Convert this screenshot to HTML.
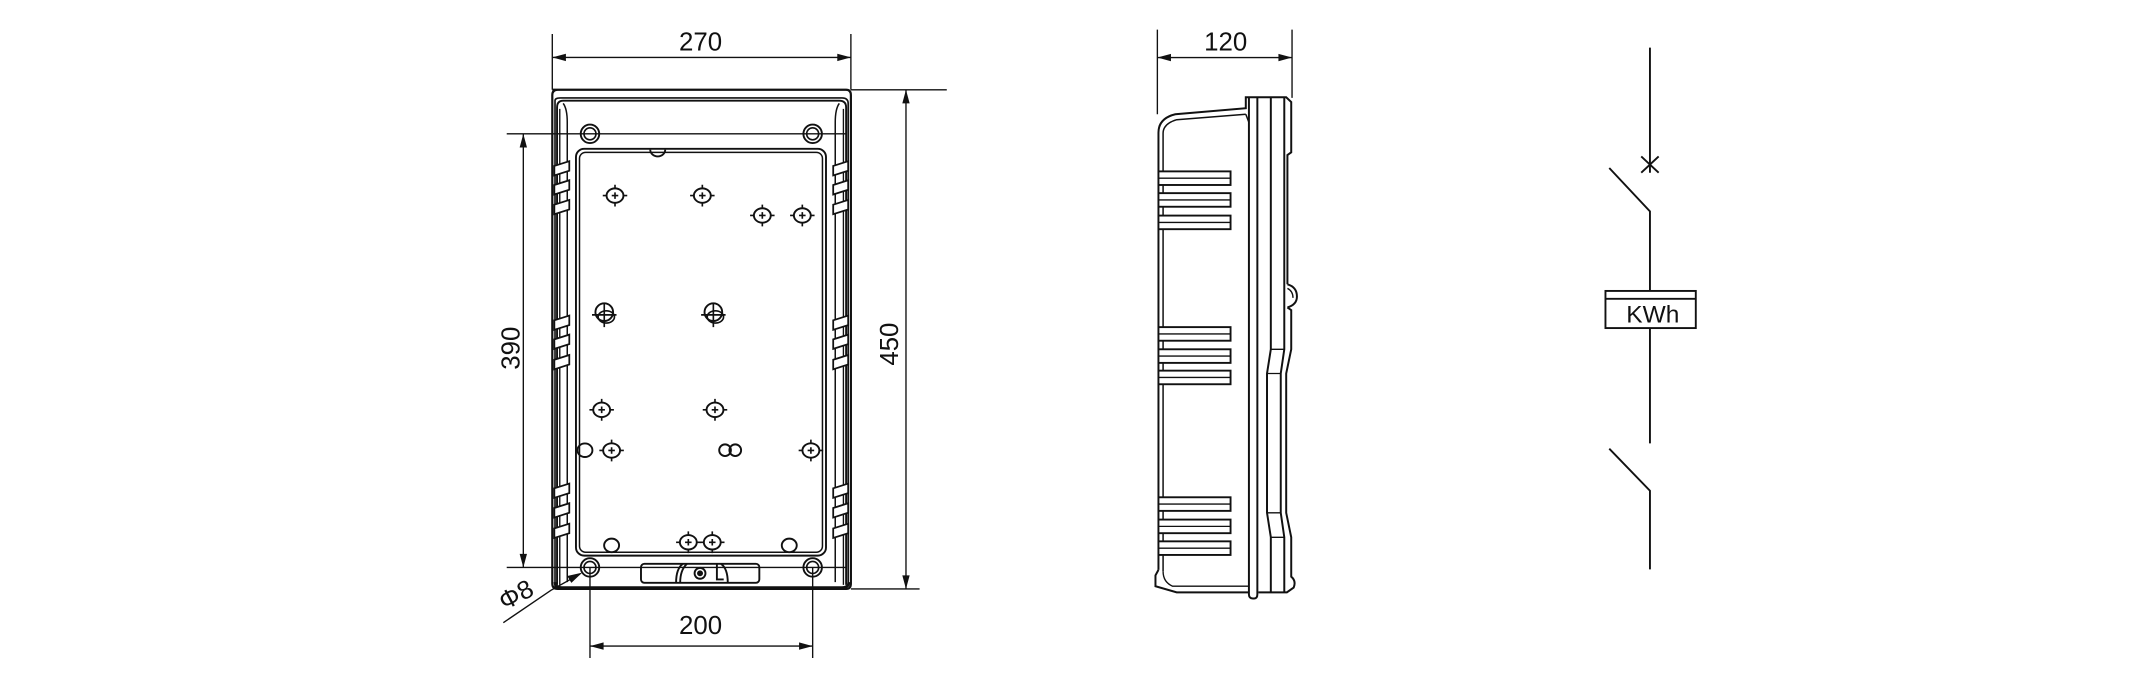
<!DOCTYPE html>
<html><head><meta charset="utf-8"><style>
html,body{margin:0;padding:0;background:#fff;width:2133px;height:693px;overflow:hidden}
svg{display:block}
text{font-family:"Liberation Sans",sans-serif;fill:#111}
</style></head><body>
<svg width="2133" height="693" viewBox="0 0 1568 509.5" preserveAspectRatio="none" xmlns="http://www.w3.org/2000/svg">
<defs>
<g id="scr"><ellipse cx="0" cy="0" rx="6.2" ry="5.3" fill="none" stroke="#111" stroke-width="1.4"/><path d="M-2.4 0H2.4M0 -2.4V2.4M-9 0H-6.2M6.2 0H9M0 -8V-5.3M0 5.3V8" stroke="#111" stroke-width="1.2"/></g>
<g id="hole"><circle r="6.8" fill="none" stroke="#111" stroke-width="1.4"/><circle r="4.4" fill="none" stroke="#111" stroke-width="1.2"/></g>
<g id="big"><circle cx="0" cy="-2" r="6.5" fill="none" stroke="#111" stroke-width="1.4"/><ellipse cx="1.5" cy="1.5" rx="6" ry="4.5" fill="none" stroke="#111" stroke-width="1.2"/><path d="M-9 0H9M0 -9V9" stroke="#111" stroke-width="1.2"/></g>
<g id="tabL"><path d="M0 3.5L11 0V7L0 10.5Z" fill="#fff" stroke="#111" stroke-width="1.3"/></g>
<g id="rib"><rect x="0" y="0" width="53" height="10" fill="#fff" stroke="#111" stroke-width="1.4"/><line x1="0" y1="5" x2="53" y2="5" stroke="#111" stroke-width="1"/></g>
</defs>
<g fill="none" stroke="#111" stroke-width="1.4">
<!-- FRONT VIEW -->
<path d="M406 66H622Q625.5 66 625.5 70V429Q625.5 433 622 433H410Q406 433 406 429V70Q406 66 410 66Z" stroke-width="1.6"/>
<path d="M408 433V74Q408 72 412 72H619Q623.5 72 623.5 76V430" stroke-width="1.2"/>
<path d="M409.5 430V79Q409.5 74 414 74H617Q622 74 622 79V430" />
<path d="M411.5 430V80M620 430V80" stroke-width="1"/>
<path d="M414 76Q417 80 417 90V428M617 76Q614 80 614 90V428" stroke-width="1.1"/>
<path d="M408 428Q408 432 413 432H619Q624 432 624 428" stroke-width="2"/>
<rect x="423.4" y="109.4" width="183.8" height="299.1" rx="6"/>
<rect x="426" y="112" width="178.6" height="294" rx="4.5" stroke-width="1.1"/>
<g>
<use href="#tabL" x="407.5" y="118.5"/><use href="#tabL" x="407.5" y="132.5"/><use href="#tabL" x="407.5" y="147"/>
<use href="#tabL" x="407.5" y="232"/><use href="#tabL" x="407.5" y="246"/><use href="#tabL" x="407.5" y="261"/>
<use href="#tabL" x="407.5" y="355.5"/><use href="#tabL" x="407.5" y="370"/><use href="#tabL" x="407.5" y="385"/>
<use href="#tabL" x="612.5" y="118.5"/><use href="#tabL" x="612.5" y="132.5"/><use href="#tabL" x="612.5" y="147"/>
<use href="#tabL" x="612.5" y="232"/><use href="#tabL" x="612.5" y="246"/><use href="#tabL" x="612.5" y="261"/>
<use href="#tabL" x="612.5" y="355.5"/><use href="#tabL" x="612.5" y="370"/><use href="#tabL" x="612.5" y="385"/>
</g>
<use href="#hole" x="433.7" y="98.4"/><use href="#hole" x="597.4" y="98.4"/>
<use href="#hole" x="433.7" y="417.2"/><use href="#hole" x="597.4" y="417.2"/>
<use href="#scr" x="452.1" y="143.8"/><use href="#scr" x="516.3" y="143.8"/>
<use href="#scr" x="560.4" y="158.4"/><use href="#scr" x="589.8" y="158.4"/>
<use href="#scr" x="442.3" y="301.3"/><use href="#scr" x="525.6" y="301.3"/>
<use href="#scr" x="449.6" y="331.2"/><use href="#scr" x="596.1" y="331.2"/>
<use href="#scr" x="506" y="398.7"/><use href="#scr" x="523.6" y="398.7"/>
<use href="#big" x="444.2" y="231.5"/><use href="#big" x="524.4" y="231.5"/>
<path d="M478 110A5.5 5 0 1 0 489 110" />
<ellipse cx="430" cy="331" rx="5.5" ry="5"/>
<ellipse cx="449.6" cy="401" rx="5.5" ry="5"/>
<ellipse cx="580.2" cy="401" rx="5.5" ry="5"/>
<circle cx="533" cy="331" r="4.3"/><circle cx="540.5" cy="331" r="4.3"/>
<rect x="471.2" y="414.5" width="87" height="14" rx="2.5"/>
<path d="M497 428.5Q497 418 502 414.5M500 428.5Q500 419 505 414.5M530 414.5Q535 418 535 428.5M527 414.5V426H532"/>
<circle cx="514.6" cy="421.5" r="4"/><circle cx="514.6" cy="421.5" r="1.5" fill="#111"/>
<path d="M406 66V25M625.5 66V25" stroke-width="1"/>
<path d="M406 42.2H625.5" stroke-width="1"/>
<path d="M625.5 66H696M625.5 433H676M666 66V433" stroke-width="1"/>
<path d="M372.5 98.4H622M372.5 417.2H622M384.7 98.4V417.2" stroke-width="1"/>
<path d="M433.7 417.2V483.8M597.4 417.2V483.8M433.7 475H597.4" stroke-width="1"/>
<path d="M370 457.8L405 434L426.4 422" stroke-width="1"/>
</g>
<g fill="#111">
<path d="M406 42.2L416 39.5V44.9Z"/><path d="M625.5 42.2L615.5 39.5V44.9Z"/>
<path d="M666 66L663.3 76H668.7Z"/><path d="M666 433L663.3 423H668.7Z"/>
<path d="M384.7 98.4L382 108.4H387.4Z"/><path d="M384.7 417.2L382 407.2H387.4Z"/>
<path d="M433.7 475L443.7 472.3V477.7Z"/><path d="M597.4 475L587.4 472.3V477.7Z"/>
<path d="M428 421L417 423.5L420 428.5Z"/>
</g>
<text x="515" y="37" font-size="19" text-anchor="middle">270</text>
<text x="515" y="466" font-size="19" text-anchor="middle">200</text>
<text transform="translate(382 256) rotate(-90)" font-size="19" text-anchor="middle">390</text>
<text transform="translate(660 253) rotate(-90)" font-size="19" text-anchor="middle">450</text>
<text transform="translate(371 449) rotate(-28)" font-size="19">Φ8</text>

<!-- SIDE VIEW -->
<g fill="none" stroke="#111" stroke-width="1.45">
<path d="M850.8 84V21.8M949.8 72V21.8M850.8 42.3H949.8" stroke-width="1"/>
<path d="M851.6 419V97.5Q851.6 87 864 84L915.8 79.6V71.5H945.5L949.2 75V112L946.4 114V209"/>
<path d="M855 420V98Q855 91 865 88L915.8 84" stroke-width="1.1"/>
<path d="M946.4 209Q953.4 211 953.4 218Q953.4 224 946.4 226" />
<path d="M946.4 212Q950.5 214 950.5 219" stroke-width="1"/>
<path d="M946.4 226L949.2 228V256.8L945.5 274.6V377L949.2 395V424Q953 427 951 432L946 435.5H925"/>
<path d="M918.1 72V437Q918.1 440 921 440H922Q924.3 440 924.3 437V72"/>
<path d="M934.2 72V256.8L931.4 274.6V377L934.2 395V436"/>
<path d="M944.1 72V256.8L941.5 274.6V377L944.1 395V436"/>
<path d="M931.4 274.6H941.5M931.4 377H941.5M934.2 256.8H944.1M934.2 395H944.1" stroke-width="1"/>
<path d="M915.8 71.5V80M915.8 84L918.1 90" stroke-width="1.1"/>
<path d="M851.6 419L849.4 423V431L865 435.5H918.1" />
<path d="M855 420Q855 428 862 431H918" stroke-width="1"/>
</g>
<g fill="#111">
<path d="M850.8 42.3L860.8 39.6V45Z"/><path d="M949.8 42.3L939.8 39.6V45Z"/>
</g>
<text x="901" y="37" font-size="19" text-anchor="middle">120</text>
<g>
<use href="#rib" x="851.6" y="126"/><use href="#rib" x="851.6" y="142"/><use href="#rib" x="851.6" y="158.5"/>
<use href="#rib" x="851.6" y="240.5"/><use href="#rib" x="851.6" y="256.8"/><use href="#rib" x="851.6" y="272.5"/>
<use href="#rib" x="851.6" y="365.6"/><use href="#rib" x="851.6" y="382"/><use href="#rib" x="851.6" y="398"/>
</g>

<!-- SCHEMATIC -->
<g fill="none" stroke="#111" stroke-width="1.4">
<path d="M1212.9 35V127"/>
<path d="M1206.5 115L1219.3 127M1219.3 115L1206.5 127"/>
<path d="M1183 123.5L1212.9 155.4V213.9"/>
<rect x="1180.2" y="213.9" width="66.4" height="27.3"/>
<path d="M1180.2 219.7H1246.6"/>
<path d="M1212.9 241.2V326"/>
<path d="M1183 329.9L1212.9 360.8V418.6"/>
</g>
<text x="1215" y="237" font-size="18" text-anchor="middle">KWh</text>
</svg>
</body></html>
